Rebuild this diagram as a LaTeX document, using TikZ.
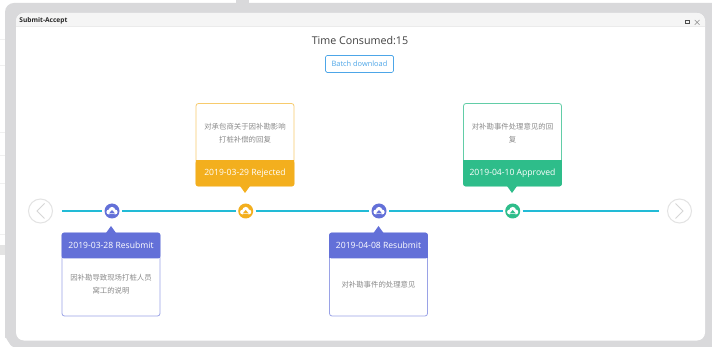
\documentclass[tikz,border=0pt]{standalone}
\usepackage{fontspec}
\setmainfont{Open Sans}
\newfontfamily\cjk{Noto Sans CJK SC}
\definecolor{frameg}{HTML}{D9D9DB}
\definecolor{headg}{HTML}{F5F5F5}
\definecolor{lineblue}{HTML}{22BBD6}
\definecolor{purp}{HTML}{6370D8}
\definecolor{amber}{HTML}{F3AF1E}
\definecolor{grn}{HTML}{2EBD8A}
\definecolor{txtg}{HTML}{8A8A8A}
\definecolor{btnblue}{HTML}{4DA6E8}
\tikzset{
  every node/.style={inner sep=0pt,outer sep=0pt},
  card/.style={draw=#1,line width=0.8pt,rounded corners=2.5pt,fill=white},
  cardhead/.style={fill=#1,rounded corners=2.5pt},
  cardtitle/.style={text=white,font=\fontsize{8.6}{10}\selectfont},
  cardbody/.style={text=txtg,font=\cjk\fontsize{7.4}{13}\selectfont,align=center},
  dotnode/.style={circle,fill=#1,minimum size=15pt},
  arrowbtn/.style={circle,draw=black!11,line width=1pt,minimum size=24pt,fill=white},
  chev/.style={draw=black!16,line width=0.8pt},
  tl/.style={draw=lineblue,line width=2.4pt},
}
\newcommand{\cloudat}[2]{%
  \begin{scope}[shift={(#1)}]
  \fill[white] (-3.2,1.0) circle (2.4);
  \fill[white] (0,-0.8) circle (3.3);
  \fill[white] (3.2,1.0) circle (2.4);
  \fill[white] (-3.2,0.5) rectangle (3.2,3.4);
  \fill[#2] (0,-1.0) -- (2.9,2.3) -- (-2.9,2.3) -- cycle;
  \end{scope}}
\begin{document}
\begin{tikzpicture}[x=1pt,y=-1pt]
\useasboundingbox (0,0) rectangle (712,347);
\fill[white] (0,0) rectangle (712,347);
% faint page behind
\fill[black!11] (0,245) rectangle (5,255);
\draw[black!6,line width=0.5pt] (0,39) -- (5,39) (0,65) -- (5,65) (0,132) -- (5,132) (0,155) -- (5,155) (0,183) -- (5,183) (0,234) -- (5,234);
\fill[frameg] (236,0) rectangle (249,3);
% dialog frame
\fill[frameg] (14,3) -- (712,3) -- (712,347) -- (14,347) to[out=180,in=90] (5,338) -- (5,12) to[out=90,in=180] (14,3) -- cycle;
\fill[white,rounded corners=8pt] (16,13) rectangle (705,340.5);
\begin{scope}
\clip[rounded corners=8pt] (16,13) rectangle (705,340.5);
\fill[headg] (16,13) rectangle (705,26);
\end{scope}
\draw[black!8,line width=0.4pt] (16,26.5) -- (705,26.5);
\node[anchor=west,text=black!85,font=\fontsize{6.6}{8}\selectfont\bfseries] (dlgtitle) at (19.5,20.5) {Submit-Accept};
\draw[black!70,line width=0.9pt] (685,20.6) rectangle (689.5,23.4);
\draw[black!45,line width=0.5pt] (694.7,20) -- (699.5,24.8) (699.5,20) -- (694.7,24.8);
\node[text=black!75,font=\fontsize{10.7}{14}\selectfont] (time) at (360,41) {Time Consumed:15};
\node[draw=btnblue,rounded corners=1.5pt,line width=0.7pt,minimum width=68pt,minimum height=17pt,text=btnblue,font=\fontsize{7.4}{9}\selectfont] (batch) at (359.5,64) {Batch download};
% timeline
\coordinate (tlstart) at (62,211);
\coordinate (tlend) at (658.5,211);
\node[dotnode=purp] (d1) at (112,211) {};
\node[dotnode=amber] (d2) at (245.7,211) {};
\node[dotnode=purp] (d3) at (379,211) {};
\node[dotnode=grn] (d4) at (512.7,211) {};
\draw[tl] (tlstart) -- ([xshift=-2.5pt]d1.west);
\draw[tl] ([xshift=2.5pt]d1.east) -- ([xshift=-2.5pt]d2.west);
\draw[tl] ([xshift=2.5pt]d2.east) -- ([xshift=-2.5pt]d3.west);
\draw[tl] ([xshift=2.5pt]d3.east) -- ([xshift=-2.5pt]d4.west);
\draw[tl] ([xshift=2.5pt]d4.east) -- (tlend);
\cloudat{d1}{purp}\cloudat{d2}{amber}\cloudat{d3}{purp}\cloudat{d4}{grn}
\node[arrowbtn] (prev) at (40.5,211) {};
\node[arrowbtn] (next) at (679.5,211) {};
\draw[chev] (44.5,203.5) -- (37,211) -- (44.5,218.5);
\draw[chev] (675.5,203.5) -- (683,211) -- (675.5,218.5);
% card 2 amber
\draw[card=amber!65] (196,103.5) rectangle (294,186);
\fill[cardhead=amber] (195.6,160.5) rectangle (294.4,186.4);
\fill[amber] (195.6,160.5) rectangle (294.4,165);
\fill[amber] (240,186) -- (245,193) -- (250,186) -- cycle;
\node[cardbody] (b2) at (245,133) {对承包商关于因补勘影响\\打桩补偿的回复};
\node[cardtitle] (t2) at (245,173.5) {2019-03-29 Rejected};
% card 4 green
\draw[card=grn!75] (463.5,103.5) rectangle (561.5,186);
\fill[cardhead=grn] (463.1,160.5) rectangle (561.9,186.4);
\fill[grn] (463.1,160.5) rectangle (561.9,165);
\fill[grn] (507,186) -- (512,193) -- (517,186) -- cycle;
\node[cardbody] (b4) at (512.5,133) {对补勘事件处理意见的回\\复};
\node[cardtitle] (t4) at (512.5,173.5) {2019-04-10 Approved};
% card 1 purple
\draw[card=purp!65] (62,233) rectangle (160,316);
\fill[cardhead=purp] (61.6,232.6) rectangle (160.4,258.5);
\fill[purp] (61.6,253) rectangle (160.4,258.5);
\fill[purp] (106,233) -- (111,226) -- (116,233) -- cycle;
\node[cardbody] (b1) at (111,284.5) {因补勘导致现场打桩人员\\窝工的说明};
\node[cardtitle] (t1) at (111,245.5) {2019-03-28 Resubmit};
% card 3 purple
\draw[card=purp!65] (329.5,233) rectangle (427.5,316);
\fill[cardhead=purp] (329.1,232.6) rectangle (427.9,258.5);
\fill[purp] (329.1,253) rectangle (427.9,258.5);
\fill[purp] (373.5,233) -- (378.5,226) -- (383.5,233) -- cycle;
\node[cardbody] (b3) at (378.5,284.5) {对补勘事件的处理意见};
\node[cardtitle] (t3) at (378.5,245.5) {2019-04-08 Resubmit};
\end{tikzpicture}
\end{document}
